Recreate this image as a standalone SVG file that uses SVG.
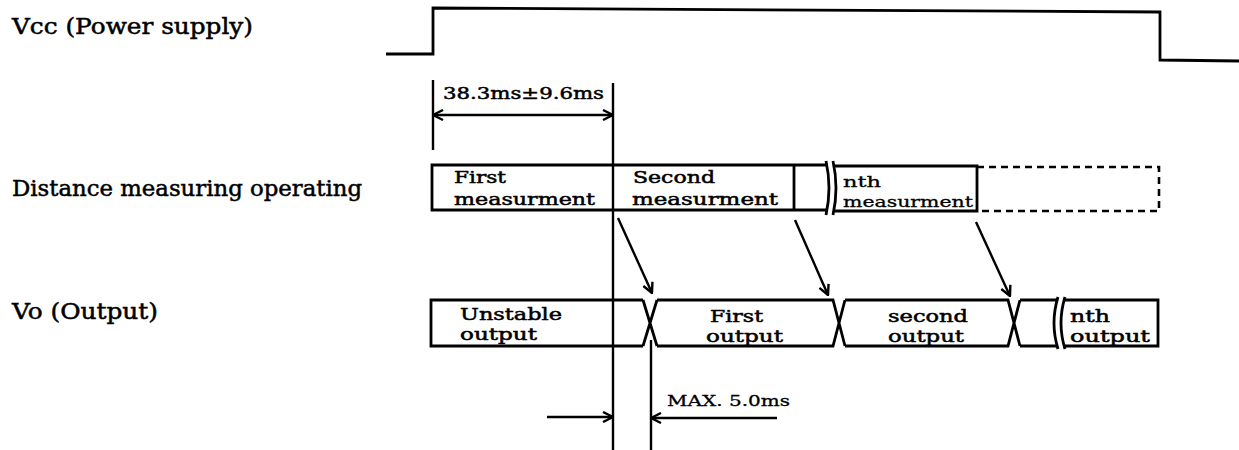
<svg xmlns="http://www.w3.org/2000/svg" width="1239" height="450" viewBox="0 0 1239 450">
<style>
.ln{fill:none;stroke:#000;stroke-width:2.8;stroke-linejoin:miter}
.thin{fill:none;stroke:#000;stroke-width:2.4}
.dash{fill:none;stroke:#000;stroke-width:2.6;stroke-dasharray:7 5}
.lbl{font-family:"DejaVu Serif","Liberation Serif",serif;font-size:22px;fill:#000;stroke:#000;stroke-width:0.5}
.t{font-family:"DejaVu Serif","Liberation Serif",serif;font-size:17px;fill:#000;stroke:#000;stroke-width:0.5}
.s{font-family:"DejaVu Serif","Liberation Serif",serif;font-size:15px;fill:#000;stroke:#000;stroke-width:0.3}
</style>
<defs>
<marker id="ah" viewBox="0 0 12 12" refX="11" refY="6" markerWidth="12" markerHeight="12" markerUnits="userSpaceOnUse" orient="auto-start-reverse">
<path d="M1,1 L11,6 L1,11" fill="none" stroke="#000" stroke-width="2.4"/>
</marker>
</defs>
<g id="labels">
<text class="lbl" x="12" y="34" textLength="241" lengthAdjust="spacingAndGlyphs">Vcc (Power supply)</text>
<text class="lbl" x="12" y="196" textLength="350" lengthAdjust="spacingAndGlyphs">Distance measuring operating</text>
<text class="lbl" x="12" y="319" textLength="146" lengthAdjust="spacingAndGlyphs">Vo (Output)</text>
</g>
<g id="vcc">
<path class="ln" d="M386,54 L433,54 L433,8 L1160,12 L1160,60 L1239,61"/>
</g>
<g id="dimension-38">
<line class="thin" x1="433" y1="80" x2="433" y2="150"/>
<text class="t" x="443" y="99" textLength="161" lengthAdjust="spacingAndGlyphs">38.3ms±9.6ms</text>
</g>
<g id="distance">
<path class="ln" d="M828,165 L432,165 L432,210 L828,210"/>
<line class="ln" x1="794" y1="165" x2="794" y2="210"/>
<path class="ln" d="M826,161 Q832,188 826,215"/>
<path class="ln" d="M833,161 Q839,188 833,215"/>
<path class="ln" d="M835,166 L977,166 L977,211 L835,211"/>
<path class="dash" d="M977,167 L1159,167 L1159,211 L977,211"/>
<text class="t" x="454" y="183" textLength="52" lengthAdjust="spacingAndGlyphs">First</text>
<text class="t" x="454" y="205" textLength="141" lengthAdjust="spacingAndGlyphs">measurment</text>
<text class="t" x="633" y="183" textLength="82" lengthAdjust="spacingAndGlyphs">Second</text>
<text class="t" x="632" y="205" textLength="146" lengthAdjust="spacingAndGlyphs">measurment</text>
<text class="s" x="843" y="187" textLength="38" lengthAdjust="spacingAndGlyphs">nth</text>
<text class="s" x="843" y="207" textLength="130" lengthAdjust="spacingAndGlyphs">measurment</text>
</g>
<g id="output">
<path class="ln" d="M643,300 L431,300 L431,346 L643,346"/>
<path class="ln" d="M643,300 L657,346 M643,346 L657,300"/>
<path class="ln" d="M657,300 L833,300 L845,346 M657,346 L833,346 L845,300"/>
<path class="ln" d="M845,300 L1008,300 L1020,346 M845,346 L1008,346 L1020,300"/>
<path class="ln" d="M1020,300 L1057,300 M1020,346 L1057,346"/>
<path class="ln" d="M1058,297 Q1050,323 1058,349"/>
<path class="ln" d="M1065,297 Q1057,323 1065,349"/>
<path class="ln" d="M1063,300 L1158,300 L1158,346 L1063,346"/>
<text class="t" x="460" y="320" textLength="102" lengthAdjust="spacingAndGlyphs">Unstable</text>
<text class="t" x="460" y="340" textLength="77" lengthAdjust="spacingAndGlyphs">output</text>
<text class="t" x="710" y="322" textLength="53" lengthAdjust="spacingAndGlyphs">First</text>
<text class="t" x="706" y="342" textLength="77" lengthAdjust="spacingAndGlyphs">output</text>
<text class="t" x="888" y="322" textLength="80" lengthAdjust="spacingAndGlyphs">second</text>
<text class="t" x="888" y="342" textLength="76" lengthAdjust="spacingAndGlyphs">output</text>
<text class="t" x="1070" y="322" textLength="40" lengthAdjust="spacingAndGlyphs">nth</text>
<text class="t" x="1070" y="342" textLength="80" lengthAdjust="spacingAndGlyphs">output</text>
</g>
<g id="dimension-max">
<text class="s" x="667" y="406" textLength="123" lengthAdjust="spacingAndGlyphs">MAX. 5.0ms</text>
</g>
<g id="connectors">
<line class="thin" x1="433" y1="115" x2="613" y2="115" marker-start="url(#ah)" marker-end="url(#ah)"/>
<line class="thin" x1="613" y1="83" x2="613" y2="450"/>
<line class="thin" x1="651" y1="340" x2="651" y2="450"/>
<line class="thin" x1="618" y1="218" x2="652" y2="293" marker-end="url(#ah)"/>
<line class="thin" x1="795" y1="220" x2="828" y2="295" marker-end="url(#ah)"/>
<line class="thin" x1="976" y1="222" x2="1010" y2="296" marker-end="url(#ah)"/>
<line class="thin" x1="547" y1="417" x2="613" y2="417" marker-end="url(#ah)"/>
<line class="thin" x1="777" y1="418" x2="651" y2="418" marker-end="url(#ah)"/>
</g>
</svg>
